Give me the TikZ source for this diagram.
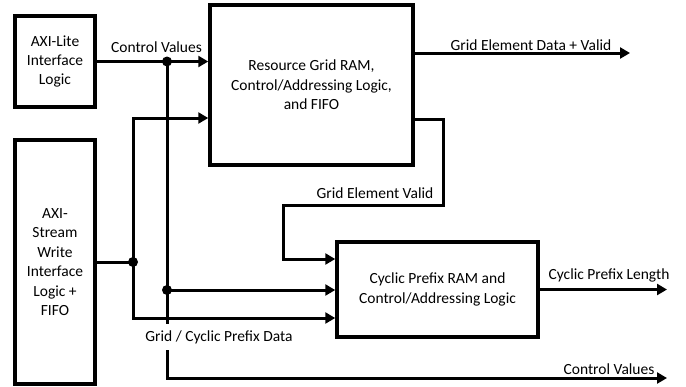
\documentclass[tikz,border=0pt]{standalone}
\usepackage{fontspec}
\setmainfont{Carlito}
\usetikzlibrary{positioning,arrows.meta}

\begin{document}
\begin{tikzpicture}[x=1pt,y=-1pt,
        blk/.style={draw,line width=3.5pt,align=center,inner sep=2pt},
        wire/.style={line width=3pt},
        arr/.style={line width=3pt,-{Triangle[length=10pt,width=11pt]}},
        junc/.style={circle,fill,inner sep=0pt,minimum size=10pt},
        lbl/.style={inner sep=1pt},
        font=\fontsize{15.5}{19.4}\selectfont]
        \useasboundingbox (0,0) rectangle (686,386);

        \node[blk,minimum width=80pt,minimum height=91pt] (lite) at (55,61.5) {AXI-Lite\\Interface\\Logic};
        \node[blk,minimum width=80pt,minimum height=244pt] (stream) at (55,262) {AXI-\\Stream\\Write\\Interface\\Logic +\\FIFO};
        \node[blk,minimum width=203pt,minimum height=160pt] (rg) at (311.5,85) {Resource Grid RAM,\\Control/Addressing Logic,\\and FIFO};
        \node[blk,minimum width=201pt,minimum height=95pt] (cp) at (437.5,289.5) {Cyclic Prefix RAM and\\Control/Addressing Logic};

        \node[junc] (j1) at (167,61.5) {};
        \node[junc] (j2) at (167,290) {};
        \node[junc] (j3) at (133,262) {};
        \coordinate (ctlout) at (667,378);
        \coordinate (gdout) at (630,53);
        \coordinate (cplout) at (667,289.5);
        \coordinate (gv1) at (443,119);
        \coordinate (gv2) at (283,205);

        \draw[arr] (lite.east) -- (rg.west |- lite.east);
        \draw[arr] (j1.center) |- (ctlout);
        \draw[arr] (j2.center) -- (cp.west |- j2.center);
        \draw[wire] (stream.east) -- (j3.center);
        \draw[arr] (j3.center) |- (rg.west |- 0,118);
        \draw[arr] (j3.center) |- (cp.west |- 0,318);
        \draw[arr] (rg.east |- gdout) -- (gdout);
        \draw[arr] (rg.east |- gv1) -| (gv1 |- gv2) -- (gv2) |- (cp.west |- 0,259);
        \draw[arr] (cp.east) -- (cplout);

        \node[lbl] (lctl) at (156.5,47) {Control Values};
        \node[lbl] (lgd) at (531,45) {Grid Element Data + Valid};
        \node[lbl] (lgv) at (375,193) {Grid Element Valid};
        \node[lbl] (lcpl) at (609,275) {Cyclic Prefix Length};
        \node[lbl,fill=white,inner sep=6pt] (ldata) at (219,337) {Grid / Cyclic Prefix Data};
        \node[lbl] (lctl2) at (609,369) {Control Values};
\end{tikzpicture}
\end{document}
